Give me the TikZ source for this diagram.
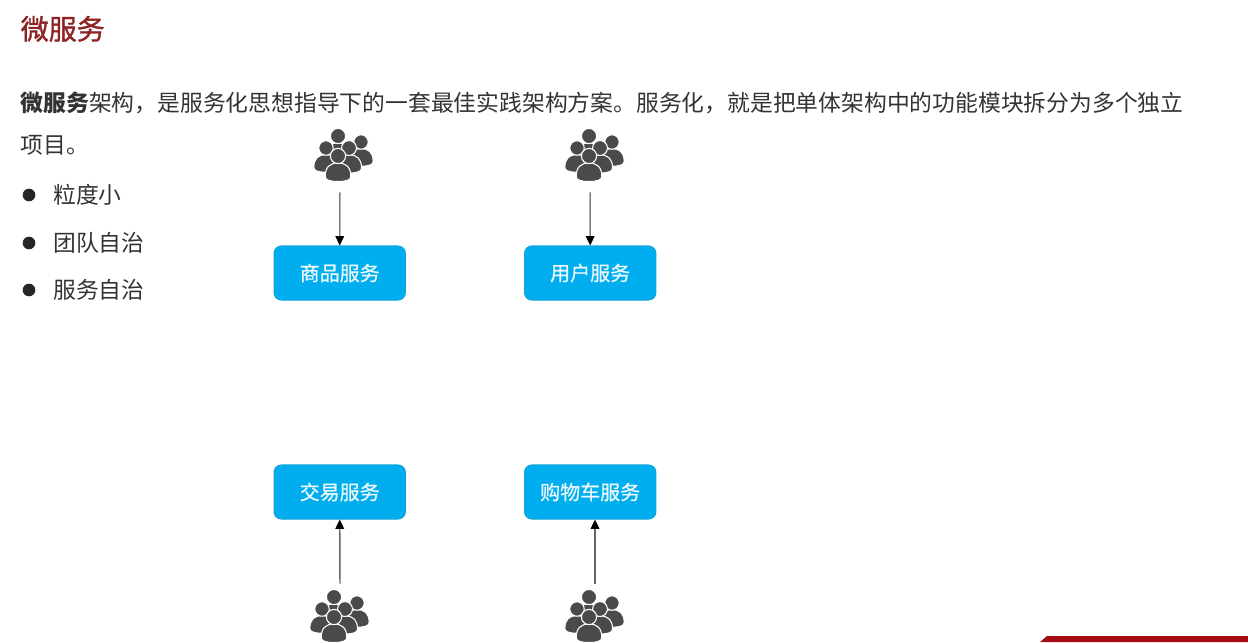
\documentclass[tikz,border=0pt]{standalone}
\usepackage{fontspec}
\setmainfont{Noto Sans CJK SC}
\newfontfamily\heavyfont[FakeBold=1.2]{Noto Sans CJK SC}
\newfontfamily\midfont[FakeBold=0.6]{Noto Sans CJK SC}
\usetikzlibrary{arrows.meta}
\definecolor{titlered}{HTML}{8E2323}
\definecolor{bodytext}{HTML}{333333}
\definecolor{boxfill}{HTML}{00AEEF}
\definecolor{boxedge}{HTML}{0FA5DD}
\definecolor{icongray}{HTML}{4A4A4A}
\definecolor{barred}{HTML}{A50D12}
\tikzset{
  px/.style={x=0.75pt,y=-0.75pt},
  titletext/.style={anchor=base west,inner sep=0pt,text=titlered,font=\heavyfont\fontsize{21}{21}\selectfont},
  bodyline/.style={anchor=base west,inner sep=0pt,text=bodytext,font=\fontsize{17.1}{17.1}\selectfont},
  bulletdot/.style={circle,fill=black!85,inner sep=0pt,minimum size=9.5pt},
  svcbox/.style={draw=boxedge,line width=0.8pt,fill=boxfill,rounded corners=5.5pt,minimum width=98.5pt,minimum height=40.5pt,inner sep=0pt,text=white!92!boxfill,font=\midfont\fontsize{15}{15}\selectfont},
  usergap/.style={inner sep=0pt,minimum width=45pt,minimum height=48pt},
  flow/.style={-{Triangle[length=7pt,width=6.5pt,color=black]},line width=0.75pt,draw=black!80},
  flowup/.style={flow,line width=1.1pt,draw=black!60},
  head/.style={fill=icongray,draw=white,line width=0.8pt},
  person/.pic={
    \path[head] (-#1*12.8,#1*20.5) .. controls (-#1*12.8,#1*11) and (-#1*8,#1*7) .. (0,#1*7) .. controls (#1*8,#1*7) and (#1*12.8,#1*11) .. (#1*12.8,#1*20.5) .. controls (#1*12.8,#1*24) and (#1*8,#1*25.5) .. (0,#1*25.5) .. controls (-#1*8,#1*25.5) and (-#1*12.8,#1*24) .. (-#1*12.8,#1*20.5) -- cycle;
    \path[head] (0,0) circle (#1*7.6);
  },
  person/.default=1,
  usergroup/.pic={
    \pic at (0,-20) {person=1};
    \pic at (23,-14) {person=0.95};
    \pic at (-12,-8) {person=0.95};
    \pic at (11,-8) {person=0.98};
    \pic at (0,0) {person=1};
  }
}
\begin{document}
\begin{tikzpicture}[px]
\useasboundingbox (0,0) rectangle (1248,642);
\node[titletext] (title) at (20.5,39.5) {微服务};
\node[bodyline] (l1) at (20.5,111) {\textbf{微服务}架构，是服务化思想指导下的一套最佳实践架构方案。服务化，就是把单体架构中的功能模块拆分为多个独立};
\node[bodyline] (l2) at (20.5,153) {项目。};
\node[bulletdot] (b1) at (29,195) {};
\node[bulletdot] (b2) at (29,243) {};
\node[bulletdot] (b3) at (29,290) {};
\node[bodyline] (t1) at (53,203) {粒度小};
\node[bodyline] (t2) at (53,251) {团队自治};
\node[bodyline] (t3) at (53,298) {服务自治};

\node[svcbox] (s1) at (339.7,273) {商品服务};
\node[svcbox] (s2) at (590.2,273) {用户服务};
\node[svcbox] (s3) at (339.7,492) {交易服务};
\node[svcbox] (s4) at (590.2,492) {购物车服务};

\node[usergap] (u1) at (340,160) {};
\node[usergap] (u2) at (590,160) {};
\node[usergap] (u3) at (340,616) {};
\node[usergap] (u4) at (595,616) {};

\pic at (338,156) {usergroup};
\pic at (589,156) {usergroup};
\pic at (334,617) {usergroup};
\pic at (589,617) {usergroup};

\draw[flow] (u1.south) -- (s1.north);
\draw[flow] (u2.south) -- (s2.north);
\draw[flowup] (u3.north) -- (s3.south);
\draw[flowup] (u4.north) -- (u4.north |- s4.south);

\fill[barred] (1040,642) -- (1047,636) -- (1248,636) -- (1248,642) -- cycle;
\end{tikzpicture}
\end{document}
